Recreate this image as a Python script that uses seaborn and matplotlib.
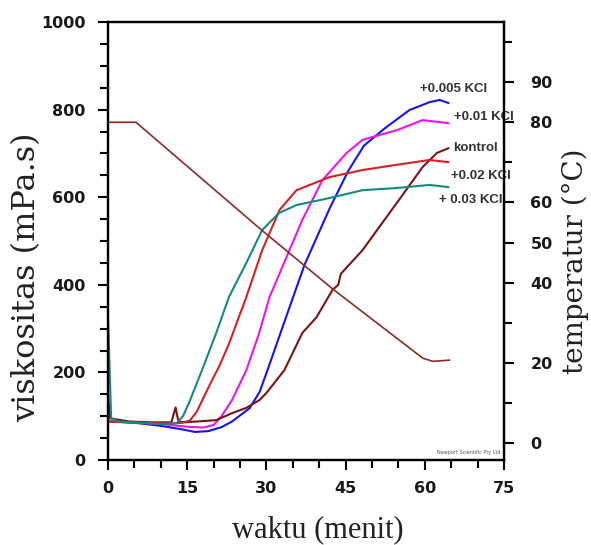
import numpy as np
import pandas as pd
import matplotlib
matplotlib.use("Agg")
import matplotlib.pyplot as plt
import seaborn as sns
from matplotlib.ticker import MultipleLocator, FixedLocator, FixedFormatter


# Data
seri = ["+0.005 KCl", "+0.01 KCl", "kontrol", "+0.02 KCl", "+ 0.03 KCl"]

t_005 = [0, 5, 10, 14, 16.5, 19, 21.5, 23.5, 26.8, 28.7, 30.2, 33.4, 37.2, 42.0,
         45.5, 48.5, 52.5, 57.1, 60.9, 62.8, 64.5]
v_005 = [88, 85, 78, 70, 64, 66, 75, 88, 118, 155, 205, 315, 445, 575,
         660, 718, 758, 799, 817, 822, 815]

t_001 = [0, 5, 10, 15, 18, 20, 21.5, 23.5, 26.2, 28.5, 30.6, 33.8, 36.8, 40.6,
         45.2, 48.2, 54.7, 59.6, 64.5]
v_001 = [88, 86, 82, 76, 74, 80, 100, 137, 205, 285, 372, 463, 548, 639,
         701, 731, 753, 776, 769]

t_kon = [0, 0.4, 4, 8, 12, 12.8, 13.3, 14, 17, 20.5, 23.5, 26.2, 28.7, 30, 33.4,
         36.8, 39.5, 42.5, 43.6, 44.1, 48.2, 54.7, 59.6, 62.3, 64.5]
v_kon = [148, 95, 88, 86, 86, 120, 90, 86, 88, 91, 107, 119, 137, 153, 205,
         290, 326, 388, 400, 425, 479, 587, 669, 701, 712]

t_002 = [0, 4, 8, 12, 14, 15.5, 16.8, 19.2, 21.1, 22.9, 26.2, 29.2, 32.5, 35.7,
         42.0, 48.2, 54.7, 60.9, 64.5]
v_002 = [88, 86, 84, 83, 85, 90, 110, 170, 215, 265, 372, 479, 571, 616,
         646, 662, 674, 685, 680]

t_003 = [0, 0.6, 2, 6, 10, 13, 14.2, 15.5, 17.8, 20.5, 22.9, 26.2, 29.2, 32.4,
         35.7, 41.9, 48.2, 54.7, 60.9, 64.5]
v_003 = [325, 95, 88, 85, 82, 84, 100, 135, 205, 290, 372, 450, 525, 564,
         582, 598, 616, 621, 628, 623]

# temperatur (sumbu kanan)
t_suhu = [0, 5.3, 29.2, 42.5, 59.6, 61.5, 64.7]
suhu = [80, 80, 53, 38.5, 21.2, 20.4, 20.7]

warna = ["#1414ee", "#ee14ee", "#7a1414", "#d42222", "#16897a"]

xticks = [0, 15, 30, 45, 60, 75]
yticks = [0, 200, 400, 600, 800, 1000]
suhu_ticks = [0, 20, 40, 50, 60, 80, 90]
suhu_minor = [10, 30, 70, 100]


def buat_dataframe():
    bag = []
    for nama, t, v in zip(seri, [t_005, t_001, t_kon, t_002, t_003],
                          [v_005, v_001, v_kon, v_002, v_003]):
        bag.append(pd.DataFrame({"waktu": t, "viskositas": v, "seri": nama}))
    return pd.concat(bag, ignore_index=True)


df = buat_dataframe()

sns.set_theme(style="white")
plt.rcParams["font.family"] = ["DejaVu Sans"]

fig = plt.figure(figsize=(5.91, 5.45), dpi=100)
ax = fig.add_axes([108 / 591, 1 - 460 / 545, (504 - 108) / 591, (460 - 22) / 545])

sns.lineplot(data=df, x="waktu", y="viskositas", hue="seri", hue_order=seri,
             palette=warna, linewidth=1.5, legend=False, sort=False, ax=ax)

ax2 = ax.twinx()
sns.lineplot(x=t_suhu, y=suhu, color="#8a2a2a", linewidth=1.2, sort=False, ax=ax2)

# Sumbu
ax.set_xlim(0, 75)
ax.set_ylim(0, 1000)
ax2.set_ylim(-4.2, 105)

ax.set_xticks(xticks)
ax.xaxis.set_minor_locator(MultipleLocator(5))
ax.set_yticks(yticks)
ax.yaxis.set_minor_locator(MultipleLocator(50))
ax2.yaxis.set_major_locator(FixedLocator(suhu_ticks))
ax2.yaxis.set_major_formatter(FixedFormatter([str(s) for s in suhu_ticks]))
ax2.yaxis.set_minor_locator(FixedLocator(suhu_minor))

for a in (ax, ax2):
    for s in a.spines.values():
        s.set_color("black")
        s.set_linewidth(1.6)
    a.tick_params(which="both", direction="out", color="black", width=1.5)
    a.tick_params(which="major", length=7)
    a.tick_params(which="minor", length=6)
ax.tick_params(axis="x", which="both", bottom=True, pad=8)
ax.tick_params(axis="y", which="both", left=True, pad=9)
ax2.tick_params(axis="y", which="both", right=True, pad=12)
for lab in ax.get_xticklabels() + ax.get_yticklabels() + ax2.get_yticklabels():
    lab.set_fontsize(11.5)
    lab.set_fontweight("bold")
    lab.set_color("#1a1a1a")

ax.set_xlabel("waktu (menit)", fontsize=22, family=["Liberation Serif", "DejaVu Serif"],
              color="#222222")
ax.set_ylabel("viskositas (mPa.s)", fontsize=23, family="DejaVu Serif", color="#222222")
ax2.set_ylabel("temperatur (°C)", fontsize=20, family="DejaVu Serif", color="#222222")
ax.xaxis.set_label_coords(0.53, -0.125)
ax.yaxis.set_label_coords(-0.167, 0.418)
ax2.yaxis.set_label_coords(1.146, 0.454)

# Label seri di ujung kurva
posisi = [(59.0, 848), (65.6, 782), (65.4, 712), (65.0, 648), (62.6, 593)]
for nama, (x, y) in zip(seri, posisi):
    ax.text(x, y, nama, fontsize=9.5, fontweight="bold",
            family=["Liberation Sans", "DejaVu Sans"],
            color="#333333", ha="left", va="center")

ax.text(0.99, 0.012, "Newport Scientific Pty Ltd", transform=ax.transAxes,
        fontsize=3.5, color="#555555", ha="right", va="bottom")

fig.savefig("out.png", dpi=100)
